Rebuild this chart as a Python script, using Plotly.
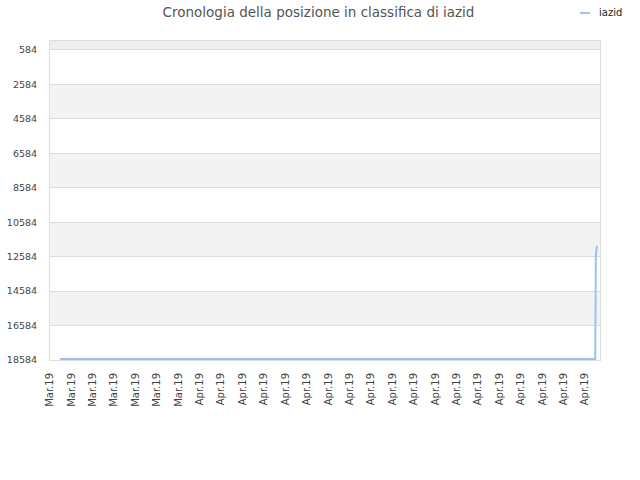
import plotly.graph_objects as go

# rank history (lower is better)
dates = ["2019-03-22 17:00", "2019-04-29 05:00", "2019-04-29 06:00", "2019-04-29 08:00"]
ranks = [18520, 18520, 12450, 11950]
series_name = "iazid"

y_ticks = [584, 2584, 4584, 6584, 8584, 10584, 12584, 14584, 16584, 18584]
x_tick_dates = ["2019-03-22 00:00", "2019-03-23 12:00", "2019-03-25 00:00", "2019-03-26 12:00",
                "2019-03-28 00:00", "2019-03-29 12:00", "2019-03-31 00:00", "2019-04-01 12:00",
                "2019-04-03 00:00", "2019-04-04 12:00", "2019-04-06 00:00", "2019-04-07 12:00",
                "2019-04-09 00:00", "2019-04-10 12:00", "2019-04-12 00:00", "2019-04-13 12:00",
                "2019-04-15 00:00", "2019-04-16 12:00", "2019-04-18 00:00", "2019-04-19 12:00",
                "2019-04-21 00:00", "2019-04-22 12:00", "2019-04-24 00:00", "2019-04-25 12:00",
                "2019-04-27 00:00", "2019-04-28 12:00"]
x_tick_text = ["Mar.19"] * 7 + ["Apr.19"] * 19

line_color = "#97c3f2"

fig = go.Figure()
fig.add_trace(go.Scatter(x=dates, y=ranks, mode="lines", name=series_name,
                         line=dict(color=line_color, width=2), showlegend=False))

# alternating grey bands between the y ticks
bands = [(62, 584)] + [(y_ticks[i], y_ticks[i + 1]) for i in range(1, len(y_ticks) - 1, 2)]
for i, (a, b) in enumerate(bands):
    fig.add_shape(type="rect", xref="paper", yref="y", x0=0, x1=1, y0=a, y1=b,
                  fillcolor="#efefef" if i == 0 else "#f3f3f3", line_width=0, layer="below")

# small legend in the top right corner
fig.add_shape(type="line", xref="paper", yref="paper", x0=0.9636, x1=0.9818, y0=1.088, y1=1.088,
              line=dict(color=line_color, width=2))
fig.add_annotation(text=series_name, xref="paper", yref="paper", x=0.995, y=1.088,
                   xanchor="left", yanchor="middle", showarrow=False,
                   font=dict(size=10, color="#222"))

fig.update_layout(
    width=640, height=480,
    margin=dict(l=50, r=40, t=41, b=120),
    paper_bgcolor="white", plot_bgcolor="white",
    font=dict(family="DejaVu Sans", size=10, color="#444"),
    title=dict(text="Cronologia della posizione in classifica di iazid", x=0.4977, xanchor="center",
               y=0.975, yanchor="middle", yref="container", font=dict(size=13.5, color="#555")),
    showlegend=False,
    xaxis=dict(type="date", range=["2019-03-22 00:00", "2019-04-29 13:00"],
               tickvals=x_tick_dates, ticktext=x_tick_text, tickangle=-90, automargin=False,
               showgrid=False, zeroline=False, showline=True, linecolor="#ddd", mirror=True,
               ticks="", ticklabelstandoff=8, tickfont=dict(size=10, color="#444")),
    yaxis=dict(range=[18584, 62], tickvals=y_ticks, ticktext=[str(v) for v in y_ticks],
               automargin=False, showgrid=True, gridcolor="#dddddd",
               zeroline=False, showline=True, linecolor="#ddd", mirror=True, ticks="",
               ticklabelstandoff=10, tickfont=dict(size=9.5, color="#444")),
)

fig.write_html("out.html", config={"displayModeBar": False},
               post_script="document.body.style.margin='0';")
